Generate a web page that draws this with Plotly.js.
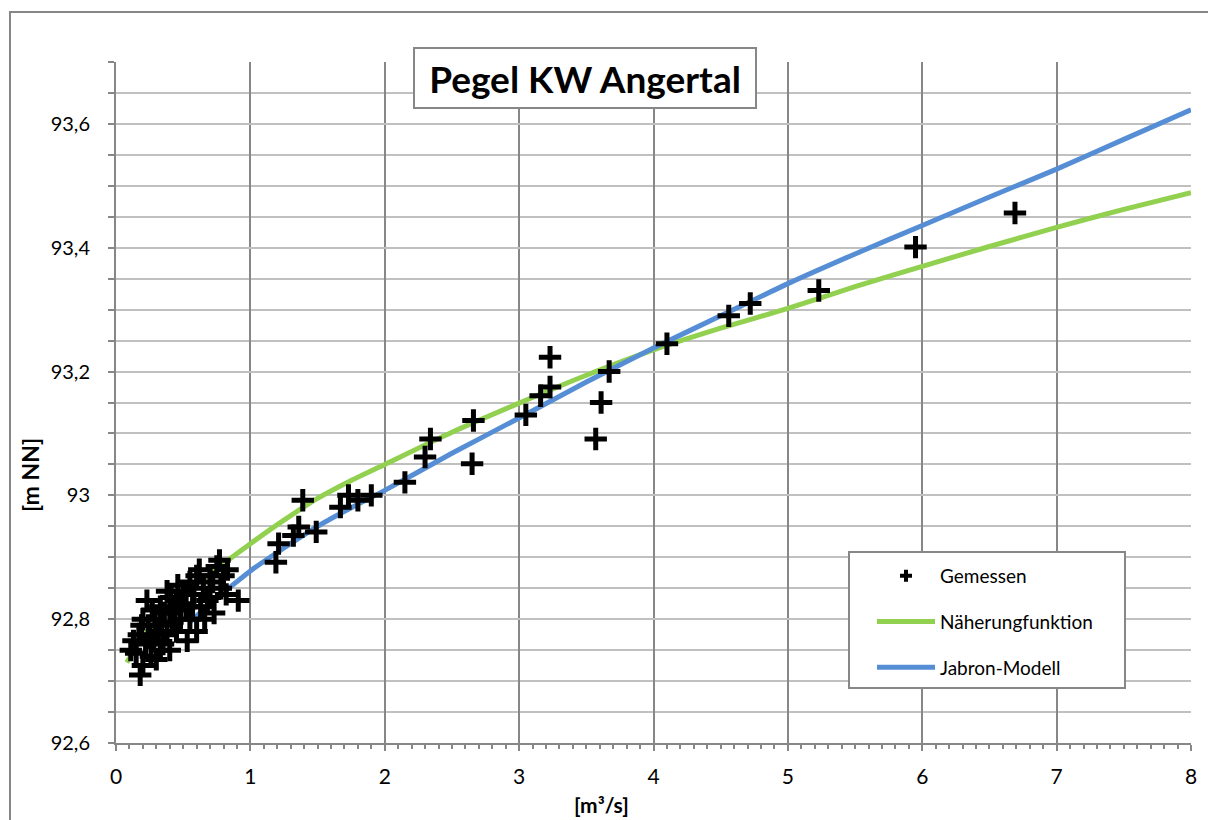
<!DOCTYPE html>
<html><head><meta charset="utf-8">
<script src="https://cdn.plot.ly/plotly-3.0.1.min.js"></script>
<style>html,body{margin:0;padding:0;background:#fff}#chart{width:1208px;height:820px}</style>
</head><body><div id="chart"></div>
<script>
// Gemessen (measured discharge Q [m³/s], water level H [m NN])
const measuredQ = [
  0.18,0.20,0.11,0.15,0.13,0.22,0.26,0.30,0.33,0.28,0.17,0.24,0.20,0.23,0.27,0.31,0.35,0.38,0.40,0.19,0.25,0.29,0.34,
  0.33,0.36,0.40,0.42,0.45,0.48,0.50,0.46,0.52,0.45,0.53,0.60,0.41,0.38,0.44,0.55,
  0.55,0.58,0.60,0.62,0.65,0.68,0.70,0.72,0.75,0.77,0.80,0.83,0.82,0.91,0.73,0.63,0.57,0.66,0.70,0.78,0.52,0.48,
  1.19,1.21,1.32,1.36,1.39,1.49,1.67,1.73,1.80,1.90,2.15,2.30,2.34,2.65,2.66,3.05,3.16,3.23,3.23,3.67,3.61,3.57,4.10,4.56,4.72,5.23,5.95,6.69
];
const measuredH = [
  92.71,92.725,92.75,92.745,92.765,92.76,92.74,92.735,92.75,92.765,92.775,92.79,92.80,92.83,92.815,92.78,92.76,92.775,92.75,92.79,92.77,92.80,92.79,
  92.82,92.81,92.81,92.795,92.83,92.80,92.845,92.855,92.82,92.78,92.765,92.78,92.835,92.845,92.815,92.80,
  92.86,92.84,92.87,92.88,92.85,92.83,92.87,92.86,92.885,92.895,92.87,92.88,92.84,92.83,92.81,92.82,92.82,92.80,92.835,92.85,92.84,92.825,
  92.892,92.922,92.935,92.949,92.992,92.941,92.981,93.0,92.992,93.0,93.021,93.062,93.091,93.051,93.121,93.130,93.161,93.175,93.223,93.2,93.150,93.091,93.245,93.290,93.310,93.331,93.401,93.456
];
// Näherungfunktion
const approxQ = [0.08,0.15,0.25,0.4,0.6,0.8,1.0,1.25,1.5,1.75,2.0,2.5,3.0,3.5,4.0,4.5,5.0,5.5,6.0,6.5,7.0,7.5,8.0];
const approxH = [92.73,92.755,92.785,92.82,92.857,92.89,92.922,92.96,92.995,93.024,93.05,93.102,93.149,93.194,93.235,93.27,93.302,93.337,93.37,93.402,93.433,93.462,93.489];
// Jabron-Modell
const jabronQ = [0.55,0.7,0.85,1.0,1.25,1.5,1.75,2.0,2.5,3.0,3.5,4.0,4.5,5.0,5.5,6.0,6.5,7.0,7.5,8.0];
const jabronH = [92.795,92.825,92.852,92.878,92.915,92.95,92.98,93.008,93.068,93.125,93.183,93.238,93.29,93.342,93.39,93.436,93.482,93.527,93.575,93.623];

const seriesNames = ['Gemessen','Näherungfunktion','Jabron-Modell'];
const chartTitle = 'Pegel KW Angertal';
const xTitle = '[m³/s]';
const yTitle = '[m NN]';
const xTickVals = [0,1,2,3,4,5,6,7,8];
const xTickText = ['0','1','2','3','4','5','6','7','8'];
const yTickVals = [92.6,92.8,93.0,93.2,93.4,93.6];
const yTickText = ['92,6','92,8','93','93,2','93,4','93,6'];

const FONT = 'Lato, "Open Sans", sans-serif';

const traces = [
  {x:[null], y:[null], type:'scatter', mode:'markers', name:seriesNames[0], legendgroup:'g1',
   marker:{symbol:'cross', size:10, color:'#000'}},
  {x:approxQ, y:approxH, type:'scatter', mode:'lines', name:seriesNames[1], legendgroup:'g2',
   line:{color:'#92D050', width:5, shape:'spline', smoothing:0.6}},
  {x:jabronQ, y:jabronH, type:'scatter', mode:'lines', name:seriesNames[2], legendgroup:'g3',
   line:{color:'#558ED5', width:5, shape:'spline', smoothing:0.6}},
  {x:measuredQ, y:measuredH, type:'scatter', mode:'markers', name:seriesNames[0], showlegend:false,
   marker:{symbol:'cross-thin', size:16, color:'#000', line:{color:'#000', width:5}}}
];

const px2x = p => (p-116)/1075;
const px2y = p => (743-p)/681;

const layout = {
  width:1208, height:820,
  margin:{l:116, r:17, t:62, b:77},
  paper_bgcolor:'#fff', plot_bgcolor:'#fff',
  font:{family:FONT, size:20, color:'#000'},
  showlegend:true,
  xaxis:{
    range:[0,8], tickmode:'array', tickvals:xTickVals, ticktext:xTickText,
    showgrid:true, gridcolor:'#878787', gridwidth:2,
    showline:true, linecolor:'#878787', linewidth:2,
    ticks:'outside', ticklen:6, tickwidth:2, tickcolor:'#878787',
    minor:{dtick:0.1, ticks:'outside', ticklen:4, tickwidth:2, tickcolor:'#878787', showgrid:false},
    ticklabelstandoff:8,
    zeroline:false, tickfont:{size:21}
  },
  yaxis:{
    range:[92.6,93.7], tickmode:'array', tickvals:yTickVals, ticktext:yTickText,
    showgrid:true, gridcolor:'#c0c0c0', gridwidth:2,
    showline:true, linecolor:'#878787', linewidth:2,
    ticks:'outside', ticklen:6, tickwidth:2, tickcolor:'#878787',
    minor:{dtick:0.05, tick0:92.6, ticks:'outside', ticklen:6, tickwidth:2, tickcolor:'#878787', showgrid:true, gridcolor:'#c0c0c0', gridwidth:2},
    ticklabelstandoff:14,
    zeroline:false, tickfont:{size:20}
  },
  legend:{
    x:px2x(872), y:px2y(557), xanchor:'left', yanchor:'top',
    bgcolor:'rgba(0,0,0,0)', borderwidth:0,
    traceorder:'grouped', tracegroupgap:18, itemwidth:58,
    font:{family:FONT, size:19, color:'#000'}
  },
  shapes:[
    {type:'rect', xref:'paper', yref:'paper', x0:px2x(10), x1:px2x(1230), y0:px2y(840), y1:px2y(12),
     line:{color:'#878787', width:2}, fillcolor:'rgba(0,0,0,0)', layer:'below'},
    {type:'rect', xref:'paper', yref:'paper', x0:px2x(849), x1:px2x(1125), y0:px2y(688), y1:px2y(552),
     line:{color:'#878787', width:2}, fillcolor:'#fff', layer:'above'}
  ],
  annotations:[
    {text:'<b>'+chartTitle+'</b>', xref:'paper', yref:'paper', x:px2x(585), y:px2y(78),
     xanchor:'center', yanchor:'middle', showarrow:false,
     font:{family:FONT, size:37, color:'#000'}, bgcolor:'#fff', bordercolor:'#878787', borderwidth:2,
     width:336, height:54, borderpad:2},
    {text:'<b>'+yTitle+'</b>', xref:'paper', yref:'paper', x:px2x(30), y:px2y(475),
     xanchor:'center', yanchor:'middle', showarrow:false, textangle:-90,
     font:{family:FONT, size:23, color:'#000'}},
    {text:'<b>'+xTitle+'</b>', xref:'paper', yref:'paper', x:px2x(601), y:px2y(804),
     xanchor:'center', yanchor:'middle', showarrow:false,
     font:{family:FONT, size:21, color:'#000'}}
  ]
};

Plotly.newPlot('chart', traces, layout, {displayModeBar:false, staticPlot:true});
</script>
</body></html>
